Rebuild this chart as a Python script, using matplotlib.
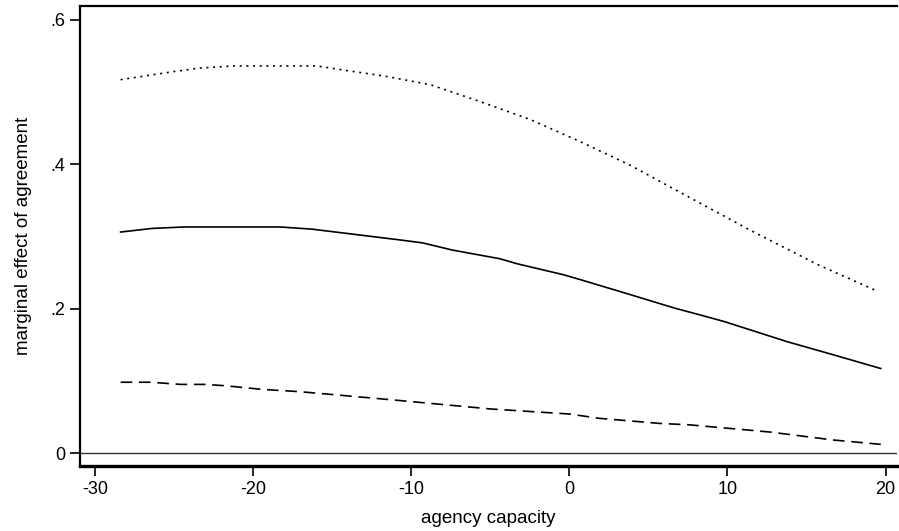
import matplotlib.pyplot as plt

plt.rcParams['font.family'] = ['Liberation Sans', 'DejaVu Sans']
plt.rcParams['axes.unicode_minus'] = False

# marginal effect estimate and confidence bounds
x_mid = [-28.4, -26.4, -24.4, -18.3, -16.3, -10.7, -9.3, -7.4, -4.4, -3.3, -0.4,
         0.7, 3.6, 6.6, 8.3, 9.8, 13.8, 16.7, 19.7]
y_mid = [0.306, 0.311, 0.313, 0.313, 0.310, 0.295, 0.291, 0.281, 0.269, 0.262, 0.247,
         0.240, 0.221, 0.201, 0.191, 0.182, 0.154, 0.136, 0.117]

x_up = [-28.4, -25.1, -23.4, -21.3, -16.0, -13.9, -11.7, -8.8, -5.7, -2.5, 0.7,
        3.8, 7.0, 11.4, 15.7, 19.5]
y_up = [0.517, 0.528, 0.533, 0.536, 0.536, 0.529, 0.522, 0.510, 0.487, 0.462, 0.431,
        0.399, 0.361, 0.309, 0.261, 0.224]

x_lo = [-28.4, -26.5, -24.6, -23.0, -21.7, -19.4, -17.1, -14.5, -10.9, -5.0, 0.0,
        1.9, 5.7, 7.6, 11.7, 12.7, 16.7, 19.7]
y_lo = [0.098, 0.098, 0.095, 0.095, 0.093, 0.088, 0.085, 0.080, 0.073, 0.061, 0.054,
        0.048, 0.041, 0.039, 0.031, 0.029, 0.018, 0.012]

xticks = [-30, -20, -10, 0, 10, 20]
yticks = [0, 0.2, 0.4, 0.6]
ytick_labels = ['0', '.2', '.4', '.6']

fig = plt.figure(figsize=(8.99, 5.31), dpi=100)
ax = fig.add_axes([0.089, 0.1224, 0.909, 0.8663])

ax.axhline(0, color='#333333', lw=1.0)
ax.plot(x_up, y_up, color='black', lw=1.2, dashes=(1.2, 2.8))
ax.plot(x_mid, y_mid, color='black', lw=1.2)
ax.plot(x_lo, y_lo, color='black', lw=1.2, dashes=(7, 4))

ax.set_xlim(-30.97, 20.74)
ax.set_ylim(-0.018, 0.619)
ax.set_xticks(xticks)
ax.set_yticks(yticks)
ax.set_yticklabels(ytick_labels)

ax.spines['right'].set_visible(False)
ax.spines['top'].set_linewidth(1.6)
ax.spines['left'].set_linewidth(1.6)
ax.spines['bottom'].set_linewidth(2.4)
ax.tick_params(direction='out', length=7, width=1.2, labelsize=13, colors='black')

ax.set_xlabel('agency capacity', fontsize=13.5, labelpad=9)
ax.set_ylabel('marginal effect of agreement', fontsize=13.5, labelpad=13)

fig.savefig('out.png', dpi=100)
